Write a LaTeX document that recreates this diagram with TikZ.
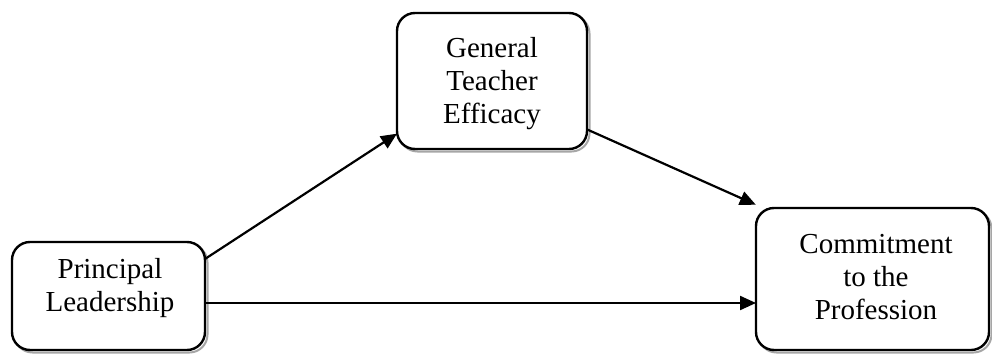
\documentclass[tikz,border=0pt]{standalone}
\usepackage{fontspec}
\setmainfont{Liberation Serif}
\usetikzlibrary{arrows.meta,calc,backgrounds}
\begin{document}
\begin{tikzpicture}[x=1pt,y=-1pt,
  box/.style={draw=black,line width=2.4pt,rounded corners=18pt,rectangle,inner sep=0pt,outer sep=0pt,fill=white},
  shadowline/.style={draw=black!35,line width=2pt,rounded corners=18pt},
  label/.style={align=center,font=\fontsize{29}{33}\selectfont,inner sep=0pt},
  arr/.style={line width=2.2pt,-{Triangle[length=16pt,width=14pt]}}]
\useasboundingbox (0,0) rectangle (992,353);
% boxes
\node[box,minimum width=193pt,minimum height=108pt] (pl) at (108.5,296) {};
\node[box,minimum width=190pt,minimum height=136pt] (gte) at (492,81) {};
\node[box,minimum width=233pt,minimum height=142pt] (cp) at (872.5,279) {};
\begin{scope}[on background layer]
  \foreach \n in {pl,gte,cp}
    \draw[shadowline] ($(\n.north west)+(2.5,2.5)$) rectangle ($(\n.south east)+(2.5,2.5)$);
\end{scope}
% texts
\node[label] (plt) at (110,288) {Principal\\Leadership};
\node[label] (gtet) at (492,84) {General\\Teacher\\Efficacy};
\node[label] (cpt) at (876,277) {Commitment\\to the\\Profession};
% arrows
\draw[arr] (pl.21.5) -- (gte.209.6);
\draw[arr,shorten >=8pt] (gte.-27.3) -- (cp.147);
\coordinate (h1) at ($(pl.east)+(0,7)$);
\draw[arr] (h1) -- (h1 -| cp.west);
\end{tikzpicture}
\end{document}
